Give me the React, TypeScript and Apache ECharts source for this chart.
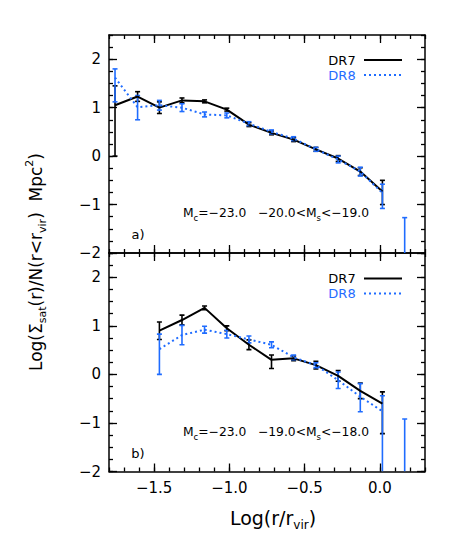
import React, { useEffect, useRef } from 'react';
import * as echarts from 'echarts';

// ---------- data ----------
const xTop = [-1.76, -1.61, -1.465, -1.315, -1.165, -1.017, -0.87, -0.72, -0.573, -0.425, -0.277, -0.13, 0.017, 0.165];
const topDR7 = [1.05, 1.23, 1.0, 1.15, 1.13, 0.96, 0.65, 0.48, 0.34, 0.14, -0.05, -0.32, -0.73, null];
const topDR7Lo = [0.0, 1.13, 0.88, 1.10, 1.10, 0.93, 0.61, 0.44, 0.30, 0.10, -0.11, -0.40, -1.0, null];
const topDR7Hi = [1.45, 1.33, 1.12, 1.20, 1.16, 0.99, 0.69, 0.52, 0.38, 0.18, 0.01, -0.24, -0.5, null];
const topDR8 = [1.62, 1.01, 1.05, 1.0, 0.86, 0.84, 0.67, 0.5, 0.36, 0.14, -0.07, -0.32, -0.76, null];
const topDR8Lo = [1.12, 0.75, 0.95, 0.92, 0.81, 0.79, 0.63, 0.46, 0.32, 0.10, -0.14, -0.41, -1.08, -2.5];
const topDR8Hi = [1.80, 1.25, 1.15, 1.08, 0.91, 0.89, 0.71, 0.54, 0.40, 0.18, 0.0, -0.23, -0.58, -1.27];

const xBot = [-1.465, -1.315, -1.165, -1.017, -0.87, -0.72, -0.573, -0.425, -0.277, -0.13, 0.017, 0.165];
const botDR7 = [0.9, 1.12, 1.37, 0.95, 0.61, 0.3, 0.33, 0.19, -0.03, -0.34, -0.6, null];
const botDR7Lo = [0.72, 1.02, 1.33, 0.90, 0.51, 0.12, 0.28, 0.11, -0.14, -0.5, -1.22, null];
const botDR7Hi = [1.08, 1.22, 1.41, 1.00, 0.71, 0.40, 0.38, 0.27, 0.08, -0.18, -0.36, null];
const botDR8 = [0.52, 0.81, 0.92, 0.83, 0.72, 0.61, 0.35, 0.19, -0.12, -0.46, -0.76, null];
const botDR8Lo = [0.0, 0.61, 0.85, 0.75, 0.65, 0.55, 0.30, 0.14, -0.29, -0.77, -2.5, -2.5];
const botDR8Hi = [0.83, 1.01, 0.99, 0.91, 0.79, 0.67, 0.40, 0.24, 0.05, -0.19, -0.44, -0.92];

const xMajor = [-1.5, -1.0, -0.5, 0.0];
const yMajor = [-2, -1, 0, 1, 2];
const X_MIN = -1.8, X_MAX = 0.3, Y_MIN = -2, Y_MAX = 2.5;

const BLUE = '#1f6cff';
const FONT = 'DejaVu Sans';

const pts = (xs: number[], ys: (number | null)[]) =>
  xs.map((x, i) => [x, ys[i]]).filter((p) => p[1] !== null);
const errs = (xs: number[], lo: (number | null)[], hi: (number | null)[]) =>
  xs.map((x, i) => [x, lo[i], hi[i]]).filter((p) => p[1] !== null && p[2] !== null);

function errorSeries(g: number, data: any[], color: string) {
  return {
    type: 'custom',
    xAxisIndex: g * 4,
    yAxisIndex: g * 4,
    data,
    encode: { x: 0, y: [1, 2] },
    clip: true,
    renderItem: (params: any, api: any) => {
      const x = api.value(0);
      const lo = api.value(1);
      const hi = api.value(2);
      const loC = Math.max(lo, Y_MIN);
      const p1 = api.coord([x, loC]);
      const p2 = api.coord([x, hi]);
      const cw = 2.5;
      const st = { stroke: color, lineWidth: 1.6 };
      const children: any[] = [
        { type: 'line', shape: { x1: p1[0], y1: p1[1], x2: p2[0], y2: p2[1] }, style: st },
        { type: 'line', shape: { x1: p2[0] - cw, y1: p2[1], x2: p2[0] + cw, y2: p2[1] }, style: st },
      ];
      if (lo > Y_MIN) {
        children.push({ type: 'line', shape: { x1: p1[0] - cw, y1: p1[1], x2: p1[0] + cw, y2: p1[1] }, style: st });
      }
      return { type: 'group', children };
    },
  };
}

function lineSeries(g: number, data: any[], color: string, dotted: boolean) {
  return {
    type: 'line',
    xAxisIndex: g * 4,
    yAxisIndex: g * 4,
    data,
    symbol: 'none',
    lineStyle: { color, width: 2, type: dotted ? [2, 3] : 'solid' },
  };
}

const fmtX = (v: number) => (v < -1e-9 ? '−' : '') + Math.abs(v).toFixed(1);
const fmtY = (v: number) => (v < 0 ? '−' + Math.abs(v) : String(v));

function axesFor(g: number) {
  const lineStyle = { color: '#000', width: 1.5 };
  const xs: any[] = [];
  const ys: any[] = [];
  (['bottom', 'top'] as const).forEach((pos) => {
    xs.push({
      type: 'value', gridIndex: g, position: pos, min: X_MIN, max: X_MAX,
      axisLine: { show: true, onZero: false, lineStyle },
      axisTick: { show: true, inside: true, length: 8, lineStyle: { color: '#000', width: 1.3 }, customValues: xMajor },
      axisLabel: {
        show: g === 1 && pos === 'bottom', customValues: xMajor, formatter: fmtX,
        color: '#000', fontSize: 15, fontFamily: FONT, margin: 9,
      },
      splitLine: { show: false },
    });
    xs.push({
      type: 'value', gridIndex: g, position: pos, min: X_MIN, max: X_MAX, interval: 0.1,
      axisLine: { show: false, onZero: false },
      axisTick: { show: true, inside: true, length: 4, lineStyle: { color: '#000', width: 1.3 } },
      axisLabel: { show: false },
      splitLine: { show: false },
    });
  });
  (['left', 'right'] as const).forEach((pos) => {
    ys.push({
      type: 'value', gridIndex: g, position: pos, min: Y_MIN, max: Y_MAX,
      axisLine: { show: true, onZero: false, lineStyle },
      axisTick: { show: true, inside: true, length: 8, lineStyle: { color: '#000', width: 1.3 }, customValues: yMajor },
      axisLabel: {
        show: pos === 'left', customValues: yMajor, formatter: fmtY,
        color: '#000', fontSize: 15, fontFamily: FONT, margin: 8,
      },
      splitLine: { show: false },
    });
    ys.push({
      type: 'value', gridIndex: g, position: pos, min: Y_MIN, max: Y_MAX, interval: 0.25,
      axisLine: { show: false, onZero: false },
      axisTick: { show: true, inside: true, length: 4, lineStyle: { color: '#000', width: 1.3 } },
      axisLabel: { show: false },
      splitLine: { show: false },
    });
  });
  return { xs, ys };
}

function legend(yTop: number) {
  return [
    { type: 'text', x: 342, y: yTop, style: { text: 'DR7', fill: '#000', font: `13px "${FONT}"`, textAlign: 'center', textVerticalAlign: 'middle' } },
    { type: 'line', shape: { x1: 364, y1: yTop, x2: 402, y2: yTop }, style: { stroke: '#000', lineWidth: 2 } },
    { type: 'text', x: 342, y: yTop + 15, style: { text: 'DR8', fill: BLUE, font: `13px "${FONT}"`, textAlign: 'center', textVerticalAlign: 'middle' } },
    { type: 'line', shape: { x1: 364, y1: yTop + 15, x2: 402, y2: yTop + 15 }, style: { stroke: BLUE, lineWidth: 2, lineDash: [2, 3] } },
  ];
}

const annRich = {
  n: { fontSize: 12.3, lineHeight: 18, fontFamily: FONT, fill: '#000' },
  s: { fontSize: 8.5, lineHeight: 9, verticalAlign: 'bottom', fontFamily: FONT, fill: '#000' },
};

function annotation(y: number, lo: string, hi: string, label: string, yLab: number) {
  return [
    {
      type: 'text', x: 183, y,
      style: {
        text: `{n|M}{s|c}{n|=−23.0   ${lo}<M}{s|s}{n|<${hi}}`,
        rich: annRich, textAlign: 'left', textVerticalAlign: 'middle',
      },
    },
    { type: 'text', x: 138, y: yLab, style: { text: label, fill: '#000', font: `13px "${FONT}"`, textAlign: 'center', textVerticalAlign: 'middle' } },
  ];
}

export default function App() {
  const ref = useRef<HTMLDivElement>(null);
  useEffect(() => {
    document.body.style.margin = '0';
    const chart = echarts.init(ref.current!, null, { renderer: 'svg' });
    const a0 = axesFor(0);
    const a1 = axesFor(1);
    const option: any = {
      animation: false,
      backgroundColor: '#fff',
      grid: [
        { left: 109, width: 316, top: 35, height: 218 },
        { left: 109, width: 316, top: 253, height: 218.5 },
      ],
      xAxis: [...a0.xs, ...a1.xs],
      yAxis: [...a0.ys, ...a1.ys],
      series: [
        errorSeries(0, errs(xTop, topDR7Lo, topDR7Hi), '#000'),
        lineSeries(0, pts(xTop, topDR7), '#000', false),
        errorSeries(0, errs(xTop, topDR8Lo, topDR8Hi), BLUE),
        lineSeries(0, pts(xTop, topDR8), BLUE, true),
        errorSeries(1, errs(xBot, botDR7Lo, botDR7Hi), '#000'),
        lineSeries(1, pts(xBot, botDR7), '#000', false),
        errorSeries(1, errs(xBot, botDR8Lo, botDR8Hi), BLUE),
        lineSeries(1, pts(xBot, botDR8), BLUE, true),
      ],
      graphic: [
        ...legend(60),
        ...legend(278.5),
        ...annotation(213, '−20.0', '−19.0', 'a)', 234),
        ...annotation(432, '−19.0', '−18.0', 'b)', 453),
        {
          type: 'text', x: 273, y: 518,
          style: {
            text: '{n|Log(r/r}{s|vir}{n|)}',
            rich: {
              n: { fontSize: 19, lineHeight: 26, fontFamily: FONT, fill: '#000' },
              s: { fontSize: 12, lineHeight: 13, verticalAlign: 'bottom', fontFamily: FONT, fill: '#000' },
            },
            textAlign: 'center', textVerticalAlign: 'middle',
          },
        },
        {
          type: 'text', x: 36, y: 262, rotation: Math.PI / 2,
          style: {
            text: '{n|Log(Σ}{s|sat}{n|(r)/N(r<r}{s|vir}{n|)  Mpc}{p|2}{n|)}',
            rich: {
              n: { fontSize: 17, lineHeight: 24, fontFamily: FONT, fill: '#000' },
              s: { fontSize: 11, lineHeight: 12, verticalAlign: 'bottom', fontFamily: FONT, fill: '#000' },
              p: { fontSize: 11, lineHeight: 12, verticalAlign: 'top', fontFamily: FONT, fill: '#000' },
            },
            textAlign: 'center', textVerticalAlign: 'middle',
          },
        },
      ],
    };
    chart.setOption(option);
    return () => chart.dispose();
  }, []);
  return <div ref={ref} style={{ width: 458, height: 541 }} />;
}
